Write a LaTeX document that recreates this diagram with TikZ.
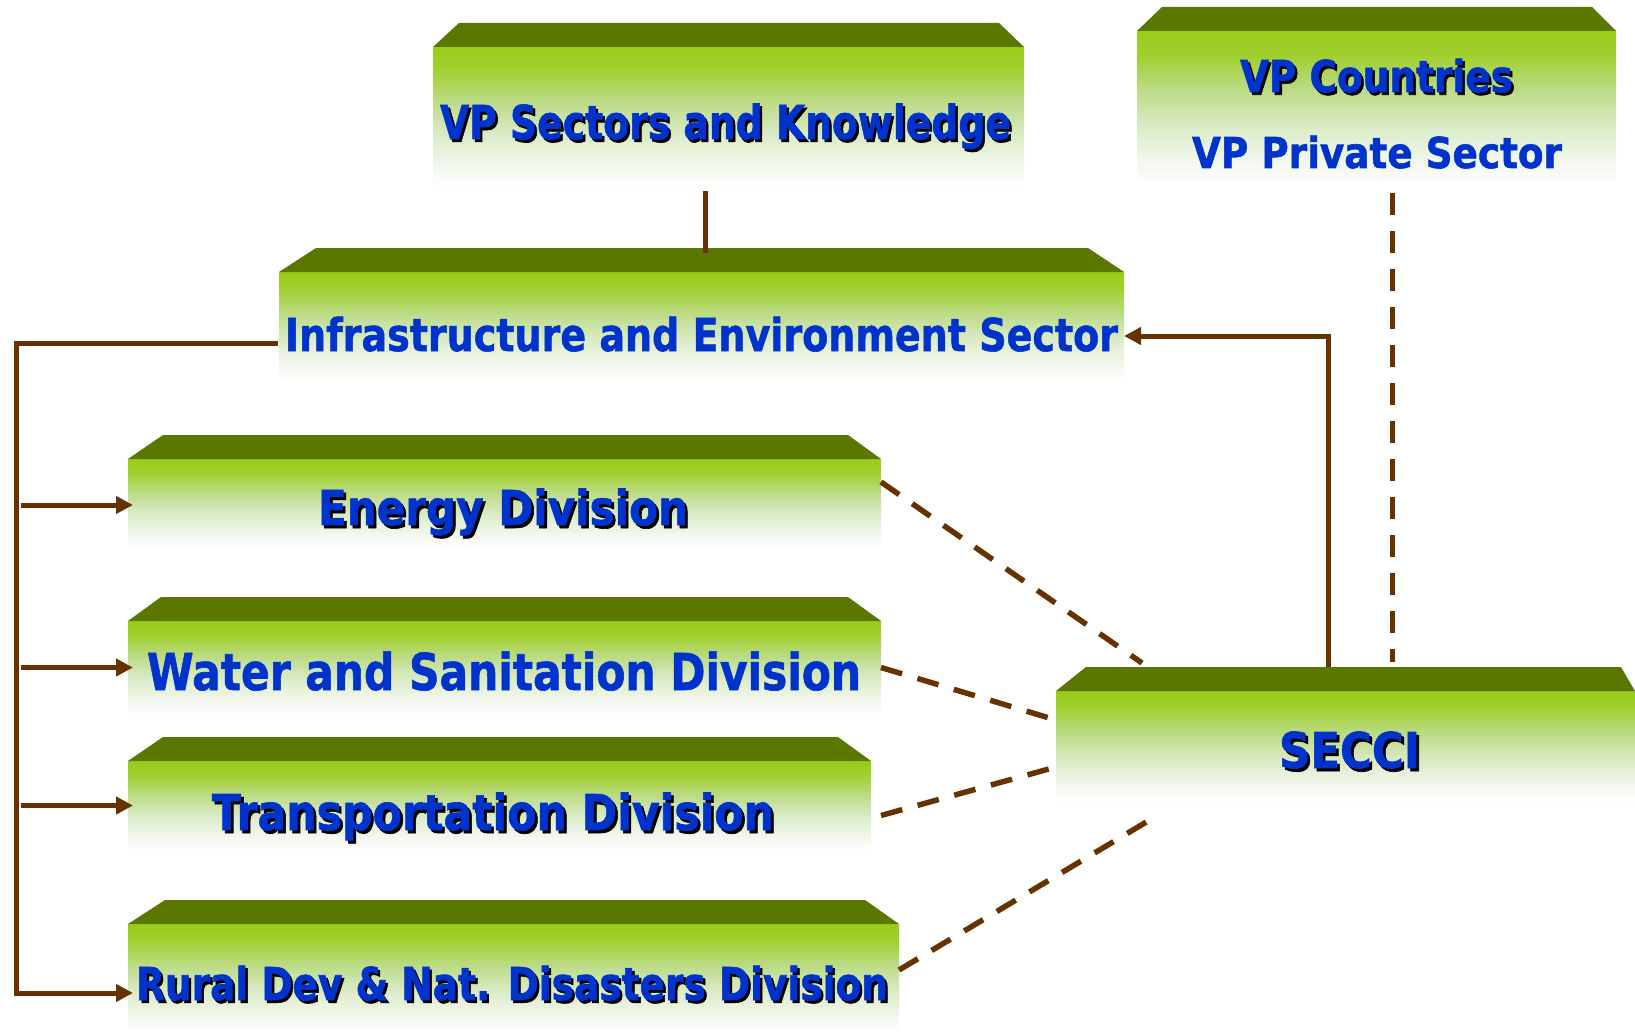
\documentclass[tikz,border=0pt]{standalone}
\usepackage{fontspec}
\setmainfont{DejaVu Sans}[BoldFeatures={FakeBold=1.3}]
\usepackage{graphicx}
\usetikzlibrary{arrows.meta,calc}
\definecolor{textblue}{RGB}{0,51,204}
\definecolor{bevelc}{RGB}{90,120,0}
\definecolor{gtop}{RGB}{153,204,25}
\definecolor{gl0}{RGB}{160,207,45}
\definecolor{gl1}{RGB}{190,220,140}
\definecolor{gl2}{RGB}{222,237,205}
\definecolor{gl3}{RGB}{243,247,238}
\definecolor{brownc}{RGB}{102,51,0}
\pgfdeclareverticalshading{gfade}{100bp}{color(0bp)=(white); color(25bp)=(white); color(32.5bp)=(gl3); color(42.5bp)=(gl2); color(55bp)=(gl1); color(67.5bp)=(gl0); color(75bp)=(gtop); color(100bp)=(gtop)}
\newcommand\shtext[1]{\makebox[0pt][l]{\kern2.5pt\raisebox{-2.5pt}{\color{black}#1}}#1}
\newcommand\fittext[3]{\resizebox{#1pt}{#2pt}{#3}}
\newcommand\bevel[3]{\fill[bevelc] (#1.north west) -- ++(#2,-24) -- ($(#1.north east)+(-#3,-24)$) -- (#1.north east) -- cycle;}
\begin{document}
\begin{tikzpicture}[x=1pt,y=-1pt,
  gbox/.style={rectangle, inner sep=0pt, outer sep=0pt, shade, shading=gfade, draw=none},
  lbl/.style={anchor=base west, inner sep=0pt, outer sep=0pt, text=textblue, font=\fontsize{40}{48}\selectfont\bfseries},
  conn/.style={draw=brownc, line width=5pt},
  dconn/.style={draw=brownc, line width=5.5pt, dash pattern=on 22pt off 16pt},
  arr/.style={-{Triangle[length=17pt,width=17pt]}}
]
\useasboundingbox[fill=white] (0,0) rectangle (1635,1035);

% boxes
\node[gbox, minimum width=591pt, minimum height=141pt] (b1) at (728.5,117.5) {};
\node[gbox, minimum width=479pt, minimum height=154pt] (b2) at (1376.5,108) {};
\node[gbox, minimum width=845pt, minimum height=108pt] (b3) at (701.5,326) {};
\node[gbox, minimum width=753pt, minimum height=88pt] (b4) at (504.5,503) {};
\node[gbox, minimum width=753pt, minimum height=93pt] (b5) at (504.5,667.5) {};
\node[gbox, minimum width=743pt, minimum height=89pt] (b6) at (499.5,805.5) {};
\node[gbox, minimum width=771pt, minimum height=108pt] (b7) at (513.5,978) {};
\node[gbox, minimum width=579pt, minimum height=112pt] (b8) at (1345.5,747) {};

\bevel{b1}{26}{25}
\bevel{b2}{25}{24}
\bevel{b3}{37}{36}
\bevel{b4}{35}{33}
\bevel{b5}{33}{33}
\bevel{b6}{35}{33}
\bevel{b7}{37}{34}
\bevel{b8}{30}{14}

% texts
\node[lbl] (t1) at (440,139) {\fittext{571}{35.5}{\shtext{VP Sectors and Knowledge}}};
\node[lbl] (t2) at (1240,92) {\fittext{273}{33.4}{\shtext{VP Countries}}};
\node[lbl] (t3) at (1192,168) {\fittext{370}{32.3}{VP Private Sector}};
\node[lbl] (t4) at (285,351) {\fittext{833}{34.4}{Infrastructure and Environment Sector}};
\node[lbl] (t5) at (318,525) {\fittext{370}{36.5}{\shtext{Energy Division}}};
\node[lbl] (t6) at (147,690) {\fittext{714}{38.6}{Water and Sanitation Division}};
\node[lbl] (t7) at (212,830) {\fittext{562}{37.5}{\shtext{Transportation Division}}};
\node[lbl] (t8) at (136,1000) {\fittext{752}{34.4}{\shtext{Rural Dev \& Nat. Disasters Division}}};
\node[lbl] (t9) at (1279,768) {\fittext{141}{36.6}{\shtext{SECCI}}};

% solid connectors
\coordinate (bus) at (16,343);
\draw[conn] ($(b1.south)+(-23.5,3)$) -- ($(b3.north)+(3.5,-19)$);
\draw[conn, arr] ($(b3.west)+(-1,17)$) -- (bus) |- ($(b7.west)+(5,15)$);
\draw[conn, arr] ($(bus |- b4.west)+(5,2)$) -- ($(b4.west)+(5,2)$);
\draw[conn, arr] ($(bus |- b5.west)+(5,0)$) -- ($(b5.west)+(5,0)$);
\draw[conn, arr] ($(bus |- b6.west)+(5,0)$) -- ($(b6.west)+(5,0)$);
\draw[conn, arr] ($(b8.north)+(-17.5,-24)$) |- ($(b3.east)+(0,10)$);

% dashed connectors
\draw[dconn] ($(b2.south)+(16,8)$) -- ($(b8.north)+(47,-29)$);
\draw[dconn] ($(b4.east)+(0,-21)$) -- ($(b8.north west)+(86,-28)$);
\draw[dconn] (b5.east) -- ($(b8.west)+(0,-27)$);
\draw[dconn] ($(b6.east)+(10,10)$) -- ($(b8.west)+(0,20)$);
\draw[dconn] ($(b7.east)+(0,-8)$) -- ($(b8.south west)+(97,15)$);
\end{tikzpicture}
\end{document}
